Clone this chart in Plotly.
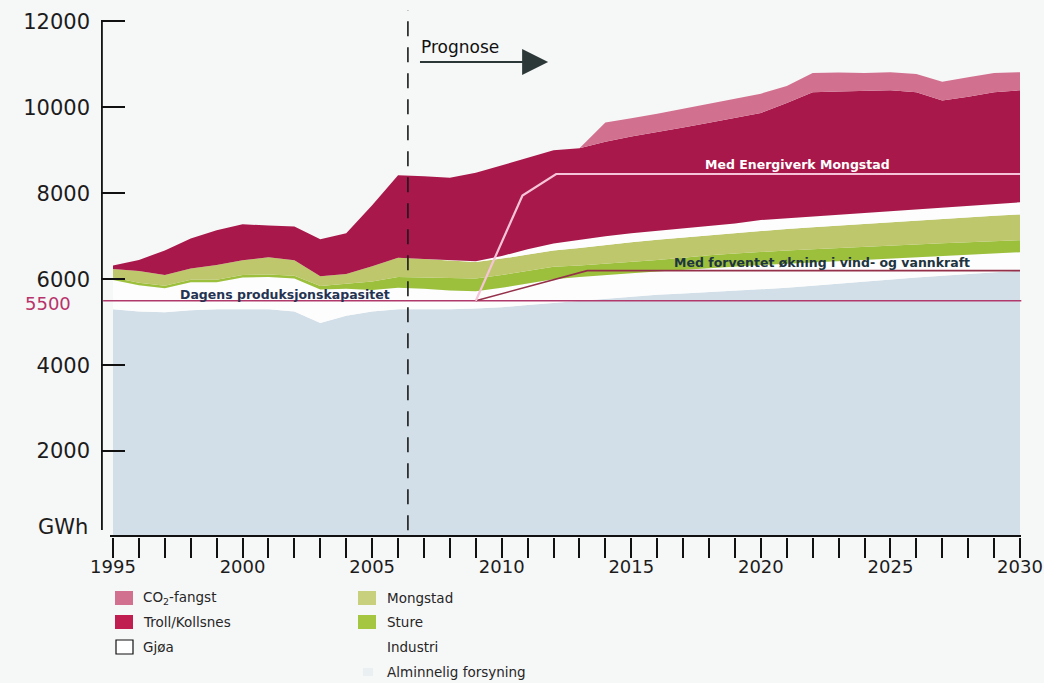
import plotly.graph_objects as go

# ---------------- data ----------------
years = list(range(1995, 2031))

alminnelig = [5300, 5250, 5230, 5280, 5300, 5300, 5300, 5250, 4980, 5150,
              5250, 5300, 5300, 5300, 5320, 5350, 5400, 5450, 5500, 5550,
              5600, 5640, 5670, 5700, 5730, 5760, 5800, 5850, 5900, 5950,
              6000, 6040, 6080, 6120, 6160, 6200]
industri = [680, 610, 560, 650, 630, 740, 750, 770, 780, 630,
            500, 500, 480, 440, 400, 450, 500, 550, 550, 550,
            540, 540, 550, 560, 570, 570, 560, 540, 520, 500,
            480, 470, 460, 450, 440, 430]
sture = [60, 60, 60, 60, 60, 60, 60, 60, 80, 120,
         200, 250, 260, 280, 300, 300, 290, 290, 270, 260,
         260, 270, 280, 300, 300, 310, 310, 310, 310, 310,
         300, 300, 300, 290, 280, 280]
mongstad = [200, 270, 250, 260, 340, 340, 400, 360, 230, 220,
            350, 450, 430, 420, 380, 380, 390, 380, 410, 440,
            460, 470, 470, 460, 480, 490, 500, 510, 520, 530,
            540, 550, 560, 580, 600, 600]
gjoa = [0, 0, 0, 0, 0, 0, 0, 0, 0, 0,
        0, 0, 0, 0, 20, 60, 120, 160, 190, 200,
        210, 210, 220, 230, 220, 250, 250, 250, 250, 250,
        260, 260, 260, 260, 270, 280]
troll_kollsnes = [80, 260, 570, 700, 810, 840, 740, 790, 860, 950,
                  1420, 1920, 1930, 1920, 2060, 2110, 2130, 2170, 2130, 2200,
                  2250, 2290, 2340, 2390, 2460, 2490, 2680, 2890, 2870, 2850,
                  2820, 2730, 2500, 2550, 2600, 2610]
co2_fangst = [0, 0, 0, 0, 0, 0, 0, 0, 0, 0,
              0, 0, 0, 0, 0, 0, 0, 0, 0, 450,
              430, 430, 440, 440, 440, 450, 400, 450, 440, 410,
              420, 430, 440, 450, 450, 420]

dagens_x = [1994.62, 2030.05]
dagens_y = [5500, 5500]
energiverk_x = [2009.0, 2010.8, 2012.1, 2030.0]
energiverk_y = [5500, 7950, 8450, 8450]
vind_x = [2009.0, 2013.3, 2030.0]
vind_y = [5500, 6200, 6200]
prognose_year = 2006.38

ytick_vals = [2000, 4000, 6000, 8000, 10000, 12000]
ytick_text = ["2000", "4000", "6000", "8000", "10000", "12000"]
xtick_vals = [1995, 2000, 2005, 2010, 2015, 2020, 2025, 2030]
xtick_text = ["1995", "2000", "2005", "2010", "2015", "2020", "2025", "2030"]

legend_col1 = ["CO<sub>2</sub>-fangst", "Troll/Kollsnes", "Gjøa"]
legend_col2 = ["Mongstad", "Sture", "Industri", "Alminnelig forsyning"]

# ---------------- style ----------------
C_BLUE = "#d2dfe8"
C_WHITE = "#fdfdfd"
C_STURE = "#9cc03c"
C_MONG = "#bfc76c"
C_TROLL = "#a8184a"
C_CO2 = "#d2708f"
BG = "#f6f7f7"
FONT = "DejaVu Sans"

W, H = 1044, 683
L, R, T, B = 101, 20, 8, 146

def pxp(xr):  # reference pixel x -> paper
    return (xr - 101) / 923.0

def pyp(yr):  # reference pixel y -> paper
    return (537 - yr) / 529.0

fig = go.Figure()

layers = [
    ("Alminnelig forsyning", alminnelig, C_BLUE),
    ("Industri", industri, C_WHITE),
    ("Sture", sture, C_STURE),
    ("Mongstad", mongstad, C_MONG),
    ("Gjøa", gjoa, C_WHITE),
    ("Troll/Kollsnes", troll_kollsnes, C_TROLL),
    ("CO2-fangst", co2_fangst, C_CO2),
]
for name, vals, col in layers:
    fig.add_trace(go.Scatter(
        x=years, y=vals, name=name, stackgroup="one", mode="lines",
        line=dict(width=0, color=col), fillcolor=col, showlegend=False,
        hoverinfo="skip"))

fig.add_trace(go.Scatter(x=dagens_x, y=dagens_y, mode="lines",
                         line=dict(color="#b0386a", width=1.5), showlegend=False))
fig.add_trace(go.Scatter(x=vind_x, y=vind_y, mode="lines",
                         line=dict(color="#94304a", width=1.6), showlegend=False))
fig.add_trace(go.Scatter(x=energiverk_x, y=energiverk_y, mode="lines",
                         line=dict(color="#f6c4d8", width=2.2), showlegend=False))

shapes = []
shapes.append(dict(type="line", xref="x", yref="y", x0=prognose_year, x1=prognose_year,
                   y0=160, y1=12267, line=dict(color="#1a1a1a", width=1.6, dash="15px,11px")))
shapes.append(dict(type="line", xref="paper", yref="paper", x0=0.001, x1=0.001,
                   y0=pyp(530), y1=pyp(20), line=dict(color="#111", width=1.8)))
shapes.append(dict(type="line", xref="paper", yref="paper", x0=pxp(110), x1=pxp(1021),
                   y0=pyp(536), y1=pyp(536), line=dict(color="#111", width=1.8)))

annotations = []
annotations.append(dict(xref="paper", yref="paper", x=pxp(90), y=pyp(527), text="GWh",
                        showarrow=False, xanchor="right", yanchor="middle",
                        font=dict(family=FONT, size=21, color="#1c1c1c")))
annotations.append(dict(xref="paper", yref="paper", x=pxp(23), y=pyp(303), text="5500",
                        showarrow=False, xanchor="left", yanchor="middle",
                        font=dict(family=FONT, size=18, color="#b8336a")))
annotations.append(dict(xref="paper", yref="paper", x=pxp(419), y=pyp(47), text="Prognose",
                        showarrow=False, xanchor="left", yanchor="middle",
                        font=dict(family=FONT, size=17, color="#111")))
annotations.append(dict(xref="x", yref="y", x=2011.79, y=11057, ax=2006.73, ay=11057,
                        axref="x", ayref="y", text=" ", showarrow=True, arrowhead=2,
                        arrowsize=2.6, arrowwidth=2, arrowcolor="#2c3838"))
annotations.append(dict(xref="x", yref="y", x=2001.64, y=5640,
                        text="<b>Dagens produksjonskapasitet</b>", showarrow=False,
                        font=dict(family=FONT, size=12.5, color="#253352")))
annotations.append(dict(xref="x", yref="y", x=2021.4, y=8660,
                        text="<b>Med Energiverk Mongstad</b>", showarrow=False,
                        font=dict(family=FONT, size=12.5, color="#ffffff")))
annotations.append(dict(xref="x", yref="y", x=2022.36, y=6400,
                        text="<b>Med forventet økning i vind- og vannkraft</b>", showarrow=False,
                        font=dict(family=FONT, size=12.5, color="#1e3440")))

# manual legend
col1_colors = [C_CO2, "#c01e50", None]
col2_colors = ["#c8d07e", "#a4c640", None, "#eaf0f2"]
row_y = [598, 622, 647, 672]
for i, txt in enumerate(legend_col1):
    yc = row_y[i]
    col = col1_colors[i]
    if col is None:
        shapes.append(dict(type="rect", xref="paper", yref="paper",
                           x0=pxp(116), x1=pxp(133), y0=pyp(yc + 7), y1=pyp(yc - 7),
                           line=dict(color="#111", width=1.2), fillcolor="#ffffff"))
    else:
        shapes.append(dict(type="rect", xref="paper", yref="paper",
                           x0=pxp(115), x1=pxp(133), y0=pyp(yc + 7), y1=pyp(yc - 7),
                           line=dict(width=0), fillcolor=col))
    annotations.append(dict(xref="paper", yref="paper", x=pxp(141), y=pyp(yc), text=txt,
                            showarrow=False, xanchor="left", yanchor="middle",
                            font=dict(family=FONT, size=13.5, color="#262626")))
for i, txt in enumerate(legend_col2):
    yc = row_y[i]
    col = col2_colors[i]
    if col is not None:
        if i == 3:
            shapes.append(dict(type="rect", xref="paper", yref="paper",
                               x0=pxp(363), x1=pxp(373), y0=pyp(yc + 4), y1=pyp(yc - 4),
                               line=dict(width=0), fillcolor=col))
        else:
            shapes.append(dict(type="rect", xref="paper", yref="paper",
                               x0=pxp(358), x1=pxp(376), y0=pyp(yc + 7), y1=pyp(yc - 7),
                               line=dict(width=0), fillcolor=col))
    annotations.append(dict(xref="paper", yref="paper", x=pxp(385), y=pyp(yc), text=txt,
                            showarrow=False, xanchor="left", yanchor="middle",
                            font=dict(family=FONT, size=13.5, color="#262626")))

fig.update_layout(
    width=W, height=H,
    margin=dict(l=L, r=R, t=T, b=B, pad=0, autoexpand=False),
    paper_bgcolor=BG, plot_bgcolor=BG,
    showlegend=False,
    shapes=shapes, annotations=annotations,
    xaxis=dict(range=[1994.537, 2030.154], showgrid=False, zeroline=False, showline=False,
               automargin=False,
               tickvals=xtick_vals, ticktext=xtick_text, ticks="outside", ticklen=20,
               tickwidth=1.6, tickcolor="#111", ticklabelstandoff=-7,
               ticklabeloverflow="allow",
               minor=dict(dtick=1, tick0=1995, ticks="outside", ticklen=20, tickwidth=1.6,
                          tickcolor="#111", showgrid=False),
               tickfont=dict(family=FONT, size=18, color="#1c1c1c")),
    yaxis=dict(range=[0, 12314], showgrid=False, zeroline=False, showline=False,
               automargin=False,
               tickvals=ytick_vals, ticktext=ytick_text, ticks="inside", ticklen=24,
               tickwidth=1.6, tickcolor="#111", ticklabelstandoff=10,
               tickfont=dict(family=FONT, size=21, color="#1c1c1c")),
)

fig.write_html("out.html", config={"displayModeBar": False},
               post_script="document.body.style.margin='0';document.body.style.overflow='hidden';")
